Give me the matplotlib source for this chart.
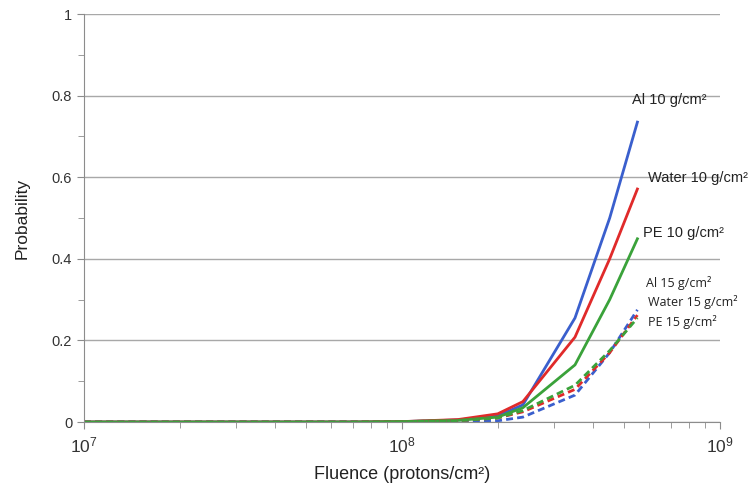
import numpy as np
import matplotlib
matplotlib.use("Agg")
import matplotlib.pyplot as plt
from matplotlib.ticker import FixedLocator, LogLocator, NullFormatter

plt.rcParams["font.family"] = ["Liberation Sans", "DejaVu Sans"]
plt.rcParams["mathtext.fontset"] = "custom"
plt.rcParams["mathtext.rm"] = "Liberation Sans"

fluence = [1e7, 2e7, 3e7, 5e7, 7e7, 1e8, 1.5e8, 2e8, 2.4e8, 3.5e8, 4.5e8, 5.5e8]

al_10 = [0, 0, 0, 0, 0, 0.001, 0.005, 0.015, 0.042, 0.255, 0.50, 0.735]
water_10 = [0, 0, 0, 0, 0, 0.001, 0.006, 0.020, 0.050, 0.208, 0.40, 0.571]
pe_10 = [0, 0, 0, 0, 0, 0.001, 0.004, 0.012, 0.035, 0.140, 0.30, 0.449]
al_15 = [0, 0, 0, 0, 0, 0.0, 0.001, 0.003, 0.012, 0.066, 0.17, 0.275]
water_15 = [0, 0, 0, 0, 0, 0.001, 0.003, 0.010, 0.025, 0.080, 0.17, 0.262]
pe_15 = [0, 0, 0, 0, 0, 0.001, 0.003, 0.010, 0.028, 0.090, 0.175, 0.255]

blue = "#3a5fcd"
red = "#e02a2a"
green = "#3aa23a"

fig = plt.figure(figsize=(7.52, 4.93), dpi=100)
ax = fig.add_axes([0.1117, 0.144, 0.8457, 0.8276])

ax.plot(fluence, al_10, color=blue, lw=2)
ax.plot(fluence, water_10, color=red, lw=2)
ax.plot(fluence, pe_10, color=green, lw=2)
ax.plot(fluence, al_15, color=blue, lw=2, ls=(0, (2.5, 1.5)))
ax.plot(fluence, water_15, color=red, lw=2, ls=(0, (2.5, 1.5)))
ax.plot(fluence, pe_15, color=green, lw=2, ls=(0, (2.5, 1.5)))

ax.set_xscale("log")
ax.set_xlim(1e7, 1e9)
ax.set_ylim(0, 1)

ax.yaxis.set_major_locator(FixedLocator([0, 0.2, 0.4, 0.6, 0.8, 1]))
ax.yaxis.set_minor_locator(FixedLocator([0.1, 0.3, 0.5, 0.7, 0.9]))
ax.set_yticklabels(["0", "0.2", "0.4", "0.6", "0.8", "1"])
ax.xaxis.set_minor_locator(LogLocator(base=10, subs=np.arange(2, 10)))
ax.xaxis.set_minor_formatter(NullFormatter())

ax.grid(axis="y", which="major", color="#a8a8a8", lw=1)
ax.set_axisbelow(True)
for s in ["top", "right"]:
    ax.spines[s].set_visible(False)
for s in ["left", "bottom"]:
    ax.spines[s].set_color("#8c8c8c")
ax.tick_params(which="both", color="#8c8c8c", labelcolor="#333333")
ax.tick_params(axis="y", labelsize=10.5)
ax.tick_params(axis="x", labelsize=12.5, pad=5)
ax.tick_params(which="major", length=5)
ax.tick_params(which="minor", length=4)

ax.set_xlabel("Fluence (protons/cm²)", fontsize=13, color="#222222", labelpad=7)
ax.set_ylabel("Probability", fontsize=12.5, color="#222222", labelpad=16)

lab = dict(fontsize=10.5, color="#222222")
ax.text(5.28e8, 0.789, "Al 10 g/cm²", ha="left", va="center", **lab)
ax.text(5.94e8, 0.598, "Water 10 g/cm²", ha="left", va="center", **lab)
ax.text(5.73e8, 0.463, "PE 10 g/cm²", ha="left", va="center", **lab)
lab2 = dict(fontsize=9, color="#222222", family=["Open Sans", "DejaVu Sans"])
ax.text(5.85e8, 0.340, "Al 15 g/cm²", ha="left", va="center", **lab2)
ax.text(5.94e8, 0.294, "Water 15 g/cm²", ha="left", va="center", **lab2)
ax.text(5.94e8, 0.245, "PE 15 g/cm²", ha="left", va="center", **lab2)

fig.savefig("out.png", dpi=100)
